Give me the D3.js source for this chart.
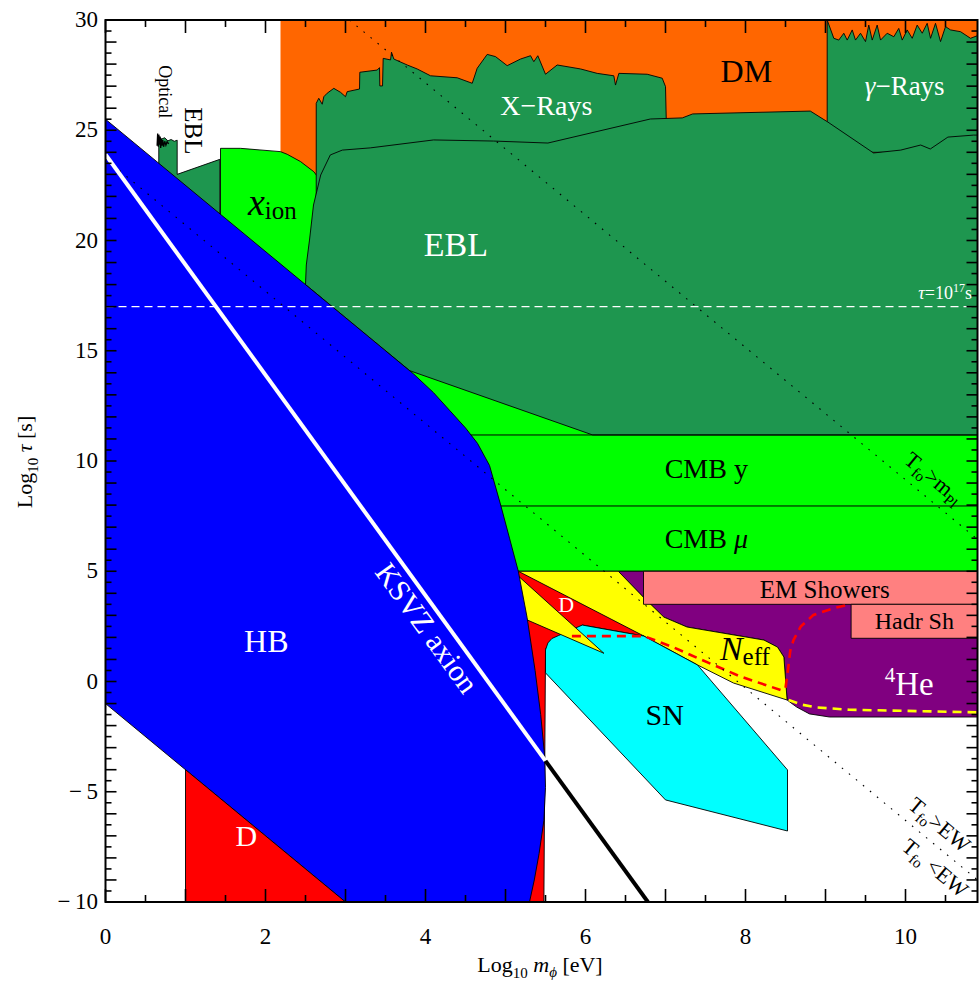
<!DOCTYPE html>
<html>
<head>
<meta charset="utf-8">
<script src="https://cdn.jsdelivr.net/npm/d3@7"></script>
<style>
  body { margin: 0; background: #fff; }
  svg { display: block; }
  text { font-family: "Liberation Serif", "Times New Roman", serif; }
</style>
</head>
<body>
<svg id="chart" width="979" height="981"></svg>
<script>
// ---- axis ticks ----
const xTickLabels = [0, 2, 4, 6, 8, 10];
const yTickLabels = [-10, -5, 0, 5, 10, 15, 20, 25, 30];

// ---- excluded regions, [log10 m (eV), log10 tau (s)] ----
const dmRegion = [[2.1875, 22], [10.9, 22], [10.9, 30], [2.1875, 30]];

const xionRegion = [[1.4375, 24.18], [1.6875, 24.18], [2.1875, 24.03], [2.271, 23.91], [2.4375, 23.58],
  [2.604, 23.12], [2.666, 22.82], [2.7, 17], [1.4375, 17]];

const xrayTop = [[2.634, 22], [2.634, 26.22], [2.666, 26.45], [2.709, 26.18], [2.729, 26.52], [2.771, 26.68],
  [2.854, 26.90], [2.938, 26.72], [3.0, 26.52], [3.021, 26.75], [3.175, 26.87], [3.179, 27.63],
  [3.396, 27.73], [3.425, 27.84], [3.429, 27.01], [3.463, 27.01], [3.471, 28.26], [3.563, 28.19],
  [3.575, 28.54], [3.604, 28.23], [3.771, 27.96], [3.896, 27.78], [4.063, 27.47], [4.396, 27.38],
  [4.584, 27.13], [4.646, 27.81], [4.771, 28.44], [4.875, 28.34], [5.021, 27.93], [5.188, 28.23],
  [5.313, 28.38], [5.354, 28.11], [5.404, 28.38], [5.5, 27.54], [5.646, 27.96], [5.938, 27.78],
  [6.146, 27.58], [6.354, 27.47], [6.375, 27.05], [6.417, 27.58], [6.771, 27.54], [6.959, 27.36],
  [7.0, 26.98], [7.009, 25.54], [7.009, 22]];

const gammaTop = [[9.021, 24], [9.021, 30], [9.104, 29.17], [9.166, 29.09], [9.229, 29.40], [9.271, 29.09],
  [9.334, 29.55], [9.375, 29.09], [9.438, 29.40], [9.5, 29.02], [9.541, 29.77], [9.584, 29.09],
  [9.646, 29.77], [9.688, 29.09], [9.771, 29.40], [9.854, 29.24], [9.916, 29.62], [9.959, 29.09],
  [10.021, 29.55], [10.084, 29.17], [10.146, 29.77], [10.209, 29.40], [10.271, 29.85], [10.313, 29.17],
  [10.375, 29.85], [10.438, 29.02], [10.5, 29.70], [10.563, 29.55], [10.688, 29.47], [10.813, 29.17],
  [10.9, 29.29], [10.9, 24]];

const eblRegion = [[2.5, 18.0], [2.51, 18.89], [2.55, 20.02], [2.6, 21.61], [2.69, 22.97], [2.81, 23.88],
  [2.96, 24.1], [3.31, 24.2], [4.1, 24.56], [4.85, 24.51], [5.53, 24.42], [6.81, 25.51], [7.21, 25.56],
  [7.34, 25.74], [8.81, 25.87], [9.03, 25.37], [9.6, 23.97], [9.94, 24.1], [10.19, 24.33], [10.31, 24.15],
  [10.53, 24.69], [10.85, 24.78], [10.9, 24.78], [10.9, 11.18], [6.09, 11.18], [3.8, 14.1]];

const eblOpticalRegion = [[0.666, 24.71], [0.7, 24.6], [0.74, 24.66], [0.78, 24.52], [0.82, 24.58],
  [0.86, 24.5], [0.896, 24.55], [0.896, 23.0], [1.429, 23.68], [1.429, 20.5], [0.666, 20.5]];

const opticalNoise = [[0.645, 24.3], [0.652, 24.85], [0.66, 24.25], [0.667, 24.8], [0.675, 24.35],
  [0.683, 24.72], [0.69, 24.2], [0.698, 24.62], [0.706, 24.3], [0.715, 24.55], [0.726, 24.25],
  [0.74, 24.5], [0.755, 24.32], [0.77, 24.48], [0.79, 24.38]];

const cmbRegion = [[3.5, 5], [10.9, 5], [10.9, 16], [3.5, 16]];
const cmbYLevel = 11.18;
const cmbMuLevel = 7.96;

// N_eff / 4He boundary
const neffEdge = [[6.41, 5.0], [6.73, 3.8], [6.98, 2.92], [7.27, 2.47], [8.23, 1.88], [8.4, 1.56],
  [8.48, 1.11], [8.52, -0.84]];
const neffLower = [[8.52, -0.84], [7.85, -0.07], [7.4, 0.75], [6.73, 2.06], [5.9, 2.6], [5.1, 4.0], [5.1, 5.0]];
const heBottom = [[8.52, -0.84], [8.64, -1.16], [8.8, -1.47], [9.05, -1.61], [10.9, -1.61], [10.9, 5.0]];

const deutRightRegion = [[5.0, 5.0], [5.16, 5.0], [6.73, 2.06], [5.96, 2.56], [5.5, 1.5], [5.48, -10], [5.0, -10]];
const neffWedge = [[5.1, 4.98], [6.23, 1.28], [5.1, 3.06]];

const snRegion = [[5.5, 0.39], [5.5, 1.43], [5.53, 1.75], [5.58, 1.95], [5.66, 2.08], [5.96, 2.56],
  [6.73, 2.06], [7.4, 0.75], [8.525, -4.01], [8.525, -6.78], [7.0, -5.37]];

const emShowers = [[6.725, 3.5], [10.9, 5.0]];
const hadrShowers = [[9.32, 1.96], [10.9, 3.5]];

const hbRegion = [[0, 25.5], [3.85, 13.95], [4.1, 13.1], [4.3, 12.3], [4.5, 11.5], [4.65, 10.8],
  [4.8, 9.8], [4.94, 8.0], [5.05, 6.5], [5.16, 5.0], [5.27, 2.9], [5.37, 0.5], [5.44, -1.5],
  [5.49, -3.4], [5.5, -4.8], [5.48, -6.3], [5.42, -7.8], [5.36, -9], [5.3, -10], [3, -10], [0, -1]];

const deutLeftRegion = [[1, -4], [1, -10], [3, -10]];

const neffRedDash = [[5.83, 2.06], [6.73, 2.06], [7.1, 1.55], [7.44, 1.0], [7.94, 0.22], [8.45, -0.4],
  [8.5, -0.3], [8.53, 0.5], [8.56, 1.4], [8.6, 1.88], [8.69, 2.49], [8.85, 3.02], [9.1, 3.32], [9.3, 3.5]];
const heYellowDash = [[8.54, -0.84], [8.7, -1.05], [8.9, -1.18], [9.3, -1.28], [10.9, -1.4]];

const freezeOutPl = [[3.05, 30], [10.9, 6.45]];
const freezeOutEW = [[0, 23.7], [10.9, -9.0]];
const ksvzWhite = [[0, 23.9], [5.5, -3.6]];
const ksvzBlack = [[5.5, -3.6], [6.78, -10]];
const tauLine = [[0, 17], [10.9, 17]];

// ---- colours ----
const C = {
  orange: "#ff6600", dark: "#1e964f", bright: "#00ff00", blue: "#0000ff", red: "#ff0000",
  yellow: "#ffff00", cyan: "#00ffff", purple: "#800080", pink: "#ff8080"
};

// ---- scales ----
const x = d3.scaleLinear().domain([0, 10.9]).range([105.5, 977.5]);
const y = d3.scaleLinear().domain([-10, 30]).range([902, 20]);
const line = d3.line().x(d => x(d[0])).y(d => y(d[1]));

const svg = d3.select("#chart");
svg.append("defs").append("clipPath").attr("id", "plotClip")
  .append("rect").attr("x", x(0)).attr("y", y(30))
  .attr("width", x(10.9) - x(0)).attr("height", y(-10) - y(30));

const plot = svg.append("g").attr("clip-path", "url(#plotClip)");

function region(pts, fill, stroke = "#000", sw = 0.9) {
  plot.append("path").attr("d", line(pts) + "Z")
    .attr("fill", fill).attr("stroke", stroke).attr("stroke-width", sw)
    .attr("stroke-linejoin", "round");
}
function rectRegion(r, fill) {
  region([[r[0][0], r[0][1]], [r[1][0], r[0][1]], [r[1][0], r[1][1]], [r[0][0], r[1][1]]], fill);
}
function path(pts, stroke, sw, dash) {
  const p = plot.append("path").attr("d", line(pts)).attr("fill", "none")
    .attr("stroke", stroke).attr("stroke-width", sw);
  if (dash) p.attr("stroke-dasharray", dash);
  return p;
}

// top: DM, x-ray and gamma-ray bounds
region(dmRegion, C.orange, "none");
region(cmbRegion, C.bright, "none");
region(xionRegion, C.bright);
region(xrayTop, C.dark);
region(gammaTop, C.dark);
region(eblRegion, C.dark);
region(eblOpticalRegion, C.dark);
path(opticalNoise, "#000", 1.3);

// CMB spectral distortion bands
path([[4.3, cmbYLevel], [10.9, cmbYLevel]], "#000", 1);
path([[4.6, cmbMuLevel], [10.9, cmbMuLevel]], "#000", 1);
path([[5.0, 5.0], [10.9, 5.0]], "#000", 1);

// BBN region
region(heBottom.concat(neffEdge), C.purple);
region(neffEdge.concat(neffLower.slice(1)), C.yellow);
region(deutRightRegion, C.red);
region(snRegion, C.cyan);
region(neffWedge, C.yellow);
rectRegion(emShowers, C.pink);
rectRegion(hadrShowers, C.pink);
path(neffRedDash, C.red, 2.6, "9,6");
path(heYellowDash, C.yellow, 2.6, "9,6");

// horizontal branch stars and low-mass deuterium bound
region(hbRegion, C.blue);
region(deutLeftRegion, C.red);

// reference lines
path(freezeOutPl, "#000", 1.1, "1.6,7.5");
path(freezeOutEW, "#000", 1.1, "1.6,7.5");
path(tauLine, "#fff", 1.2, "8,5");
path(ksvzWhite, "#fff", 4);
path(ksvzBlack, "#000", 4);

// ---- labels ----
const labels = svg.append("g");
function rich(t, parts) {
  let prev = 0;
  parts.forEach(p => {
    const ts = t.append("tspan").text(p.t).attr("font-size", p.s);
    if (p.i) ts.attr("font-style", "italic");
    const b = p.b || 0;
    if (b !== prev) { ts.attr("dy", b - prev); prev = b; }
  });
}
function label(xv, yv, parts, o = {}) {
  const t = labels.append("text")
    .attr("transform", `translate(${x(xv)},${y(yv)}) rotate(${o.rotate || 0})`)
    .attr("x", o.dx || 0).attr("y", o.dy || 0)
    .attr("text-anchor", o.anchor || "middle")
    .attr("fill", o.fill || "#000");
  rich(t, parts);
}
const at = (seg, xv) => seg[0][1] + (seg[1][1] - seg[0][1]) * (xv - seg[0][0]) / (seg[1][0] - seg[0][0]);

label(8.01, 27.19, [{ t: "DM", s: 32 }]);
label(5.51, 25.69, [{ t: "X\u2212Rays", s: 28 }], { fill: "#fff" });
label(9.99, 26.6, [{ t: "\u03b3", s: 27, i: true }, { t: "\u2212Rays", s: 27 }], { fill: "#fff" });
label(4.38, 19.3, [{ t: "EBL", s: 34 }], { fill: "#fff" });
label(1.78, 21.16, [{ t: "x", s: 38, i: true }, { t: "ion", s: 25, b: 4 }], { anchor: "start" });
label(1.09, 24.97, [{ t: "EBL", s: 25 }], { rotate: 90, dy: 8 });
label(0.74, 26.75, [{ t: "Optical", s: 18 }], { rotate: 90, dy: 6 });
label(10.83, 17.35, [{ t: "\u03c4", s: 18, i: true }, { t: "=10", s: 18 }, { t: "17", s: 12, b: -7 }, { t: "s", s: 18, b: 0 }],
  { anchor: "end", fill: "#fff" });
label(7.51, 9.23, [{ t: "CMB y", s: 28 }]);
label(7.51, 6.05, [{ t: "CMB ", s: 28 }, { t: "\u03bc", s: 28, i: true }]);
label(8.99, 3.79, [{ t: "EM Showers", s: 25 }]);
label(10.11, 2.38, [{ t: "Hadr Sh", s: 24 }]);
label(7.68, 0.97, [{ t: "N", s: 34, i: true }, { t: "eff", s: 25, b: 5 }], { anchor: "start" });
label(9.74, -0.61, [{ t: "4", s: 21, b: -13 }, { t: "He", s: 33, b: 0 }], { anchor: "start", fill: "#fff" });
label(6.99, -1.97, [{ t: "SN", s: 30 }]);
label(5.76, 3.15, [{ t: "D", s: 22 }], { fill: "#fff" });
label(2.01, 1.34, [{ t: "HB", s: 32 }], { fill: "#fff" });
label(1.76, -7.46, [{ t: "D", s: 30 }], { fill: "#fff" });

const angKsvz = Math.atan2(y(ksvzWhite[1][1]) - y(ksvzWhite[0][1]), x(ksvzWhite[1][0]) - x(ksvzWhite[0][0])) * 180 / Math.PI;
label(4.2, at(ksvzWhite, 4.2), [{ t: "KSVZ axion", s: 30 }], { rotate: angKsvz, dy: 28, fill: "#fff" });

const angFo = Math.atan2(y(freezeOutPl[1][1]) - y(freezeOutPl[0][1]), x(freezeOutPl[1][0]) - x(freezeOutPl[0][0])) * 180 / Math.PI;
label(10.2, at(freezeOutPl, 10.2), [{ t: "T", s: 22 }, { t: "fo", s: 15, b: 5 }, { t: ">m", s: 22, b: 0 }, { t: "Pl", s: 15, b: 5 }],
  { rotate: angFo, dy: -12 });
label(10.28, at(freezeOutEW, 10.28), [{ t: "T", s: 22 }, { t: "fo", s: 15, b: 5 }, { t: ">EW", s: 22, b: 0 }],
  { rotate: angFo, dy: -11 });
label(10.3, at(freezeOutEW, 10.3), [{ t: "T", s: 22 }, { t: "fo", s: 15, b: 5 }, { t: " <EW", s: 22, b: 0 }],
  { rotate: angFo, dy: 25, dx: 22 });

// ---- frame and ticks ----
const axes = svg.append("g");
axes.append("rect").attr("x", x(0)).attr("y", y(30))
  .attr("width", x(10.9) - x(0)).attr("height", y(-10) - y(30))
  .attr("fill", "none").attr("stroke", "#000").attr("stroke-width", 2);

d3.range(0, 10.9 + 1e-9, 0.5).forEach(v => {
  const len = Math.abs(v - Math.round(v)) < 1e-9 ? 13 : 7;
  axes.append("line").attr("x1", x(v)).attr("x2", x(v)).attr("y1", y(-10)).attr("y2", y(-10) - len)
    .attr("stroke", "#000").attr("stroke-width", 1.6);
  axes.append("line").attr("x1", x(v)).attr("x2", x(v)).attr("y1", y(30)).attr("y2", y(30) + len)
    .attr("stroke", "#000").attr("stroke-width", 1.6);
});
d3.range(-10, 30 + 1e-9, 0.5).forEach(v => {
  const len = Math.abs(v - Math.round(v)) < 1e-9 ? 11 : 6;
  axes.append("line").attr("x1", x(0)).attr("x2", x(0) + len).attr("y1", y(v)).attr("y2", y(v))
    .attr("stroke", "#000").attr("stroke-width", 1.6);
  axes.append("line").attr("x1", x(10.9)).attr("x2", x(10.9) - len).attr("y1", y(v)).attr("y2", y(v))
    .attr("stroke", "#000").attr("stroke-width", 1.6);
});

xTickLabels.forEach(v => {
  axes.append("text").attr("x", x(v)).attr("y", 944).attr("text-anchor", "middle")
    .attr("font-size", 23).text(v);
});
yTickLabels.forEach(v => {
  axes.append("text").attr("x", 98).attr("y", y(v) + 7).attr("text-anchor", "end")
    .attr("font-size", 23).text(v < 0 ? "\u2212\u2009" + Math.abs(v) : v);
});

// axis titles
const xt = axes.append("text").attr("x", 540).attr("y", 972).attr("text-anchor", "middle").attr("fill", "#000");
rich(xt, [{ t: "Log", s: 22 }, { t: "10", s: 15, b: 6 }, { t: " ", s: 22, b: 0 }, { t: "m", s: 22, i: true },
  { t: "\u03d5", s: 15, i: true, b: 5 }, { t: " [eV]", s: 22, b: 0 }]);
const yt = axes.append("text").attr("transform", "translate(32,462) rotate(-90)").attr("text-anchor", "middle").attr("fill", "#000");
rich(yt, [{ t: "Log", s: 22 }, { t: "10", s: 15, b: 6 }, { t: " ", s: 22, b: 0 }, { t: "\u03c4", s: 22, i: true },
  { t: " [s]", s: 22 }]);
</script>
</body>
</html>
